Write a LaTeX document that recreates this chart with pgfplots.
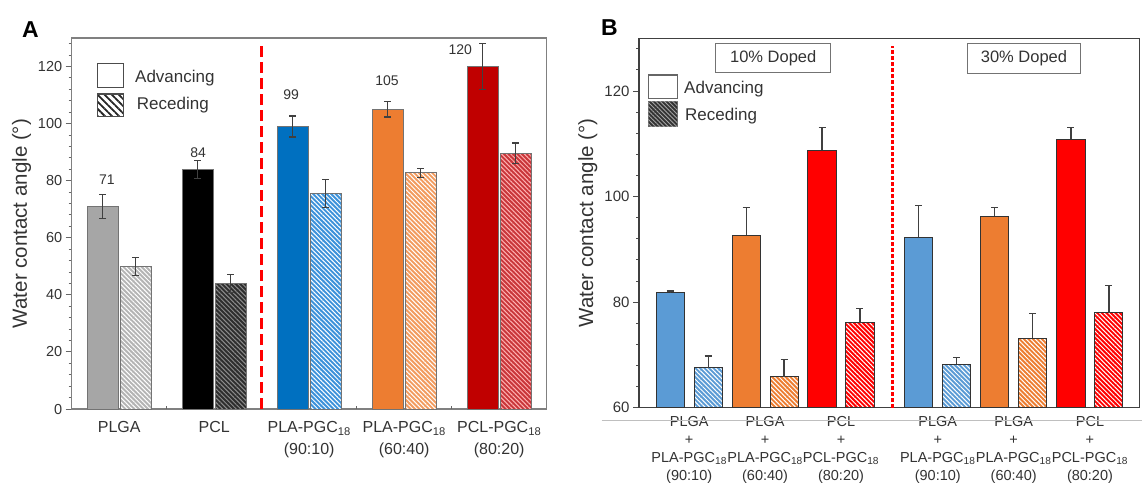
\documentclass[border=0pt]{standalone}
\usepackage{fontspec}
\setmainfont{Liberation Sans}
\setsansfont{Liberation Sans}
\usepackage{pgfplots}
\pgfplotsset{compat=1.18}
\usetikzlibrary{patterns.meta}

\definecolor{txt}{HTML}{333333}
% panel A colours
\definecolor{plgaA}{HTML}{A6A6A6}
\definecolor{plgaAr}{HTML}{B4B4B4}
\definecolor{pclAr}{HTML}{2E2E2E}
\definecolor{blueA}{HTML}{0070C0}
\definecolor{blueAr}{HTML}{3C92DA}
\definecolor{orangeA}{HTML}{ED7D31}
\definecolor{orangeAr}{HTML}{F29B5E}
\definecolor{redA}{HTML}{C00000}
\definecolor{redAr}{HTML}{C9363A}
% panel B colours
\definecolor{blueB}{HTML}{5B9BD5}
\definecolor{orangeB}{HTML}{ED7D31}
\definecolor{redB}{HTML}{FF0000}

% bars sit at their own x (group +- offset), so no bar shift is needed
\pgfplotsset{
  errs/.style={
    /pgfplots/error bars/y explicit,
    /pgfplots/error bars/error mark=-,
    /pgfplots/error bars/error bar style={line width=1.2pt, black!75},
    /pgfplots/error bars/error mark options={rotate=90, line width=1.2pt, black!75, mark size=3.5pt}},
  barA/.style={ybar, bar width=0.33, bar shift=0, draw=black!55, line width=0.8pt,
    errs, /pgfplots/error bars/y dir=both},
  barB/.style={ybar, bar width=0.37, bar shift=0, draw=black!80, line width=1pt,
    errs, /pgfplots/error bars/y dir=plus},
  hatch/.style 2 args={fill=#1, postaction={pattern={Lines[angle=-45,distance=3.2pt,line width=1pt]}, pattern color=#2}},
}

\begin{document}
\begin{tikzpicture}
\useasboundingbox (0pt,0pt) rectangle (1142pt,-485pt);

% ---------------- panel A ----------------
\begin{axis}[
  at={(71.7pt,-409pt)}, anchor=south west,
  scale only axis, width=475pt, height=371pt,
  xmin=-0.5, xmax=4.5, ymin=0, ymax=130,
  xtick=\empty,
  ytick={0,20,...,120}, minor ytick={0,4,...,128},
  ytick pos=left, tick align=outside,
  major tick length=6pt, minor tick length=3pt,
  every tick/.style={black!60, line width=1pt},
  axis line style={black!50, line width=1.5pt},
  /pgf/number format/assume math mode=true,
  yticklabel style={font=\fontsize{14.5}{16}\selectfont, text=txt},
  ylabel={Water contact angle (°)},
  ylabel style={font=\fontsize{20.5}{22}\selectfont, text=txt, inner sep=0pt,
    at={(axis description cs:-0.085,0.5)}, anchor=south},
  clip=false,
]
% advancing at i-0.175, receding at i+0.175
\addplot[barA, fill=plgaA] coordinates {(-0.175,71) +- (0,4.2)};
\addplot[barA, hatch={plgaAr}{white}] coordinates {(0.175,49.9) +- (0,3.1)};
\addplot[barA, fill=black] coordinates {(0.825,84) +- (0,3.2)};
\addplot[barA, hatch={pclAr}{black!45}] coordinates {(1.175,44) +- (0,3.1)};
\addplot[barA, fill=blueA] coordinates {(1.825,99) +- (0,3.7)};
\addplot[barA, hatch={blueAr}{white}] coordinates {(2.175,75.6) +- (0,4.9)};
\addplot[barA, fill=orangeA] coordinates {(2.825,105) +- (0,2.7)};
\addplot[barA, hatch={orangeAr}{white}] coordinates {(3.175,82.8) +- (0,1.6)};
\addplot[barA, fill=redA] coordinates {(3.825,120) +- (0,8.1)};
\addplot[barA, hatch={redAr}{red!30}] coordinates {(4.175,89.6) +- (0,3.6)};

\draw[red, line width=3pt, dash pattern=on 11pt off 5pt] (axis cs:1.5,0) -- (axis cs:1.5,128);
\draw[black!60, line width=1pt] (axis cs:0.5,0) -- ++(0pt,3pt);
\draw[black!60, line width=1pt] (axis cs:2.5,0) -- ++(0pt,3pt);
\draw[black!60, line width=1pt] (axis cs:3.5,0) -- ++(0pt,3pt);

\begin{scope}[every node/.style={font=\fontsize{14}{16}\selectfont, text=txt}]
\node at (axis cs:-0.13,80.2) {71};
\node at (axis cs:0.83,89.7) {84};
\node at (axis cs:1.81,110) {99};
\node at (axis cs:2.82,115) {105};
\node at (axis cs:3.59,125.8) {120};
\end{scope}

\begin{scope}[every node/.style={font=\fontsize{16}{21.5}\selectfont, text=txt, align=center, anchor=north, inner sep=0pt}]
\node at ([yshift=-12.5pt]axis cs:0,0) {PLGA};
\node at ([yshift=-12.5pt]axis cs:1,0) {PCL};
\node at ([yshift=-12.5pt]axis cs:2,0) {PLA-PGC\textsubscript{18}\\(90:10)};
\node at ([yshift=-12.5pt]axis cs:3,0) {PLA-PGC\textsubscript{18}\\(60:40)};
\node at ([yshift=-12.5pt]axis cs:4,0) {PCL-PGC\textsubscript{18}\\(80:20)};
\end{scope}
\end{axis}

% ---------------- panel B ----------------
\begin{axis}[
  at={(639pt,-407.7pt)}, anchor=south west,
  scale only axis, width=500.3pt, height=369.4pt,
  xmin=-0.661, xmax=5.93, ymin=60, ymax=130,
  xtick=\empty,
  ytick={60,80,...,120}, minor ytick={60,64,...,128},
  ytick pos=left, tick align=outside,
  major tick length=6pt, minor tick length=3pt,
  every tick/.style={black!70, line width=1pt},
  axis line style={black!75, line width=1.3pt},
  /pgf/number format/assume math mode=true,
  yticklabel style={font=\fontsize{15}{17}\selectfont, text=txt},
  ylabel={Water contact angle (°)},
  ylabel style={font=\fontsize{20.5}{22}\selectfont, text=txt, inner sep=0pt,
    at={(axis description cs:-0.083,0.5)}, anchor=south},
  clip=false,
]
% advancing at i-0.25, receding at i+0.25
\addplot[barB, fill=blueB] coordinates {(-0.25,81.8) +- (0,0.3)};
\addplot[barB, hatch={blueB}{white}] coordinates {(0.25,67.6) +- (0,2.2)};
\addplot[barB, fill=orangeB] coordinates {(0.75,92.7) +- (0,5.2)};
\addplot[barB, hatch={orangeB}{white}] coordinates {(1.25,65.9) +- (0,3.3)};
\addplot[barB, fill=redB] coordinates {(1.75,108.8) +- (0,4.3)};
\addplot[barB, hatch={redB}{white}] coordinates {(2.25,76.1) +- (0,2.7)};
\addplot[barB, fill=blueB] coordinates {(3.025,92.3) +- (0,6.0)};
\addplot[barB, hatch={blueB}{white}] coordinates {(3.525,68.2) +- (0,1.3)};
\addplot[barB, fill=orangeB] coordinates {(4.025,96.3) +- (0,1.7)};
\addplot[barB, hatch={orangeB}{white}] coordinates {(4.525,73.2) +- (0,4.6)};
\addplot[barB, fill=redB] coordinates {(5.03,110.9) +- (0,2.2)};
\addplot[barB, hatch={redB}{white}] coordinates {(5.53,78.0) +- (0,5.1)};

\draw[red, line width=2.5pt, dash pattern=on 4pt off 2pt] (axis cs:2.68,60) -- (axis cs:2.68,128.5);

\begin{scope}[every node/.style={font=\fontsize{14.5}{18}\selectfont, text=txt, align=center, anchor=north, inner sep=0pt}]
\node at ([yshift=-8pt]axis cs:0,60) {PLGA\\+\\PLA-PGC\textsubscript{18}\\(90:10)};
\node at ([yshift=-8pt]axis cs:1,60) {PLGA\\+\\PLA-PGC\textsubscript{18}\\(60:40)};
\node at ([yshift=-8pt]axis cs:2,60) {PCL\\+\\PCL-PGC\textsubscript{18}\\(80:20)};
\node at ([yshift=-8pt]axis cs:3.275,60) {PLGA\\+\\PLA-PGC\textsubscript{18}\\(90:10)};
\node at ([yshift=-8pt]axis cs:4.275,60) {PLGA\\+\\PLA-PGC\textsubscript{18}\\(60:40)};
\node at ([yshift=-8pt]axis cs:5.28,60) {PCL\\+\\PCL-PGC\textsubscript{18}\\(80:20)};
\end{scope}
\end{axis}

% panel letters
\node[font=\fontsize{23}{26}\selectfont\bfseries, anchor=west, inner sep=0pt] at (22pt,-30pt) {A};
\node[font=\fontsize{23}{26}\selectfont\bfseries, anchor=west, inner sep=0pt] at (601pt,-28pt) {B};

% legend A
\draw[black!70, line width=1.2pt, fill=white] (97.7pt,-63.3pt) rectangle (123.3pt,-87.3pt);
\draw[black!70, line width=1.2pt, pattern={Lines[angle=-45,distance=5pt,line width=1.8pt]}, pattern color=black!85] (97.7pt,-94pt) rectangle (123.3pt,-116.7pt);
\node[font=\fontsize{17}{19}\selectfont, text=txt, anchor=west, inner sep=0pt] at (135pt,-78.3pt) {Advancing};
\node[font=\fontsize{17}{19}\selectfont, text=txt, anchor=west, inner sep=0pt] at (136.7pt,-105pt) {Receding};

% legend B
\draw[black!60, line width=1.2pt, fill=white] (648.3pt,-75pt) rectangle (677.3pt,-98.3pt);
\draw[black!60, line width=1.2pt, fill=black!80, postaction={pattern={Lines[angle=-45,distance=3pt,line width=0.8pt]}, pattern color=black!35}] (648.3pt,-101.7pt) rectangle (677.3pt,-126.7pt);
\node[font=\fontsize{17}{19}\selectfont, text=txt, anchor=west, inner sep=0pt] at (684pt,-89.3pt) {Advancing};
\node[font=\fontsize{17}{19}\selectfont, text=txt, anchor=west, inner sep=0pt] at (685pt,-116pt) {Receding};

% doping boxes
\draw[black!55, line width=1.2pt] (715.7pt,-43.3pt) rectangle (830.7pt,-72.7pt);
\node[font=\fontsize{16.5}{18}\selectfont, text=txt] at (773.2pt,-58pt) {10\% Doped};
\draw[black!55, line width=1.2pt] (967.3pt,-43.3pt) rectangle (1080.7pt,-73.3pt);
\node[font=\fontsize{16.5}{18}\selectfont, text=txt] at (1024pt,-58.3pt) {30\% Doped};

% faint rule under panel B
\draw[black!25, line width=0.8pt] (601.7pt,-420.7pt) -- (1142pt,-420.7pt);
\end{tikzpicture}
\end{document}
